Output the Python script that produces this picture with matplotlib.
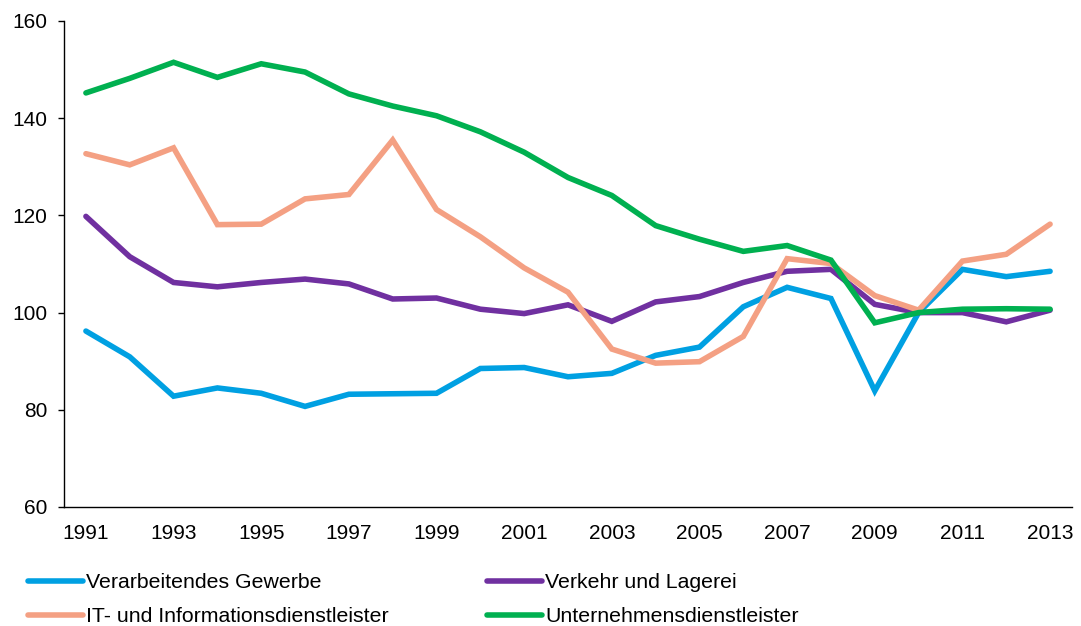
import matplotlib
matplotlib.use("Agg")
import matplotlib.pyplot as plt

years = list(range(1991, 2014))
verarbeitendes = [96.2, 90.9, 82.8, 84.5, 83.4, 80.7, 83.2, 83.3, 83.4, 88.5, 88.7,
                  86.8, 87.5, 91.2, 92.9, 101.2, 105.2, 102.9, 83.9, 100.0, 108.9, 107.4, 108.5]
verkehr = [119.8, 111.5, 106.2, 105.3, 106.2, 106.9, 105.9, 102.8, 103.0, 100.7, 99.8,
           101.6, 98.2, 102.2, 103.3, 106.2, 108.5, 108.9, 101.7, 100.0, 100.0, 98.1, 100.5]
it_info = [132.7, 130.4, 133.9, 118.1, 118.2, 123.4, 124.3, 135.5, 121.2, 115.6, 109.2,
           104.2, 92.5, 89.6, 89.9, 95.1, 111.1, 110.1, 103.5, 100.5, 110.6, 112.0, 118.2]
unternehmens = [145.2, 148.2, 151.5, 148.4, 151.2, 149.5, 145.0, 142.5, 140.5, 137.2, 133.0,
                127.8, 124.1, 117.9, 115.1, 112.6, 113.8, 110.8, 97.9, 100.0, 100.7, 100.8, 100.7]

labels = ["Verarbeitendes Gewerbe", "Verkehr und Lagerei",
          "IT- und Informationsdienstleister", "Unternehmensdienstleister"]
colors = ["#00A0E2", "#7030A0", "#F4A083", "#00B050"]
series = [verarbeitendes, verkehr, it_info, unternehmens]

plt.rcParams['font.family'] = ['Liberation Sans', 'DejaVu Sans']

fig = plt.figure(figsize=(10.81, 6.26), dpi=100)
ax = fig.add_axes([64/1081, 1-507/626, (1072-64)/1081, (507-21)/626])

lines = []
for vals, c, lab in zip(series, colors, labels):
    ln, = ax.plot(years, vals, color=c, lw=4.0, label=lab, solid_capstyle='round',
                  solid_joinstyle='miter')
    lines.append(ln)

ax.set_xlim(1990.5, 2013.5)
ax.set_ylim(60, 160)
ax.set_yticks([60, 80, 100, 120, 140, 160])
ax.set_xticks(list(range(1991, 2014, 2)))
ax.tick_params(axis='x', length=0, pad=12, labelsize=15)
ax.tick_params(axis='y', length=4, width=1, pad=8, labelsize=15)
for s in ['top', 'right']:
    ax.spines[s].set_visible(False)
for s in ['left', 'bottom']:
    ax.spines[s].set_linewidth(1.0)
    ax.spines[s].set_color('black')

leg_kw = dict(loc='upper left', frameon=False, fontsize=15.3, handlelength=2.6,
              handletextpad=0.15, labelspacing=0.72, borderaxespad=0, borderpad=0)
leg1 = fig.legend([lines[0], lines[2]], [labels[0], labels[2]],
                  bbox_to_anchor=(28/1081, 1-573/626), **leg_kw)
leg2 = fig.legend([lines[1], lines[3]], [labels[1], labels[3]],
                  bbox_to_anchor=(487/1081, 1-573/626), **leg_kw)

fig.savefig("out.png", dpi=100)
